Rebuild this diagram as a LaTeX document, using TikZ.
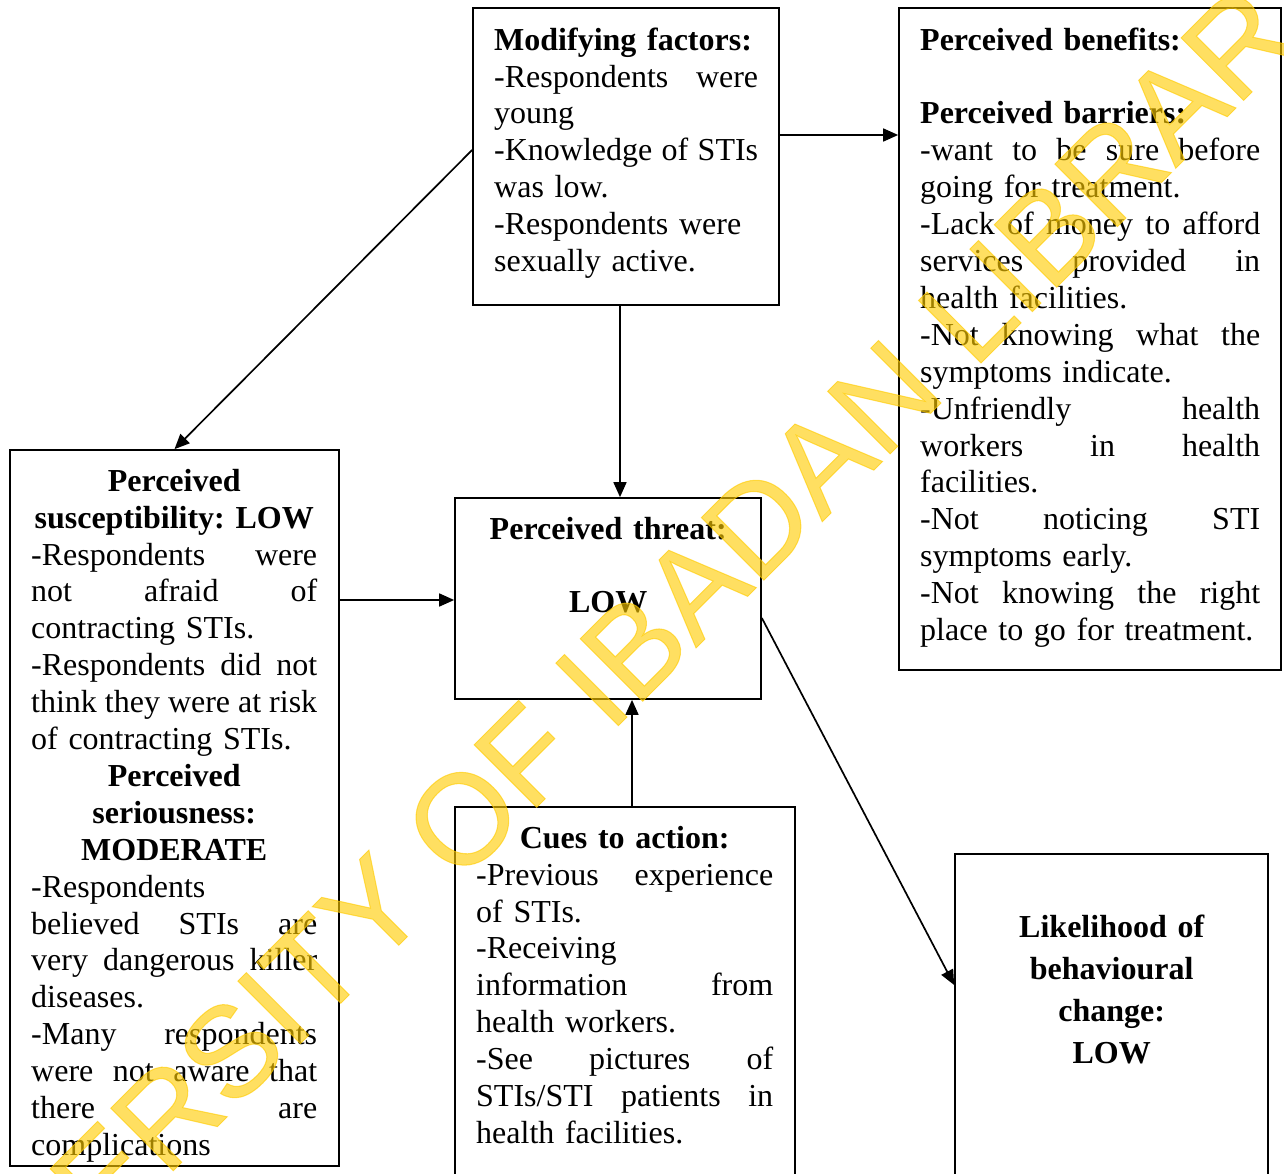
\documentclass[tikz,border=0pt]{standalone}
\usepackage{fontspec}
\setmainfont{Liberation Serif}
\newfontfamily\wmfont[FakeBold=0.8]{Liberation Sans}
\usetikzlibrary{arrows.meta}
\setlength{\parindent}{0pt}
\frenchspacing
\newlength\tw
\def\J#1{\leavevmode\hbox to\tw{\Jloop#1 \Jend}}
\def\Jloop#1 #2\Jend{#1\ifx\relax#2\relax\else\hfill\Jloop#2\Jend\fi}
\newcommand\C[1]{\makebox[\tw][c]{#1}}
\newcommand\fl{\rule{0pt}{30pt}}
\definecolor{wmcol}{RGB}{255,204,0}
\begin{document}
\begin{tikzpicture}[x=1pt,y=1pt,
  bx/.style={draw, line width=1.7pt, inner sep=0pt, fill=none},
  tb/.style={anchor=north west, inner sep=0pt, text width=#1, align=left,
    font=\fontsize{32}{36.9}\selectfont,
    execute at begin node={\setlength{\tw}{#1}\noindent}},
  arr/.style={line width=1.7pt, -{Triangle[length=15pt,width=13pt]}}]
\useasboundingbox (0,0) rectangle (1284,-1174);
\fill[white] (0,0) rectangle (1284,-1174);

% boxes
\node[bx, minimum width=306pt, minimum height=297pt] (mod) at (626,-156.5) {};
\node[bx, minimum width=382pt, minimum height=662pt] (ben) at (1090,-339) {};
\node[bx, minimum width=329pt, minimum height=716pt] (lft) at (174.5,-808) {};
\node[bx, minimum width=306pt, minimum height=201pt] (thr) at (608,-598.5) {};
\node[bx, minimum width=340pt, minimum height=383pt] (cue) at (625,-998.5) {};
\node[bx, minimum width=313pt, minimum height=336pt] (lik) at (1111.5,-1022) {};

% texts
\node[tb=264pt] (modt) at (494,-20) {\fl\textbf{Modifying factors:}\\
\J{-Respondents were}\\
young\\
\J{-Knowledge of STIs}\\
was low.\\
-Respondents were\\
sexually active.};

\node[tb=340pt] (bent) at (920,-20) {\fl\textbf{Perceived benefits:}\\
\mbox{}\\
\textbf{Perceived barriers:}\\
\J{-want to be sure before}\\
going for treatment.\\
\J{-Lack of money to afford}\\
\J{services provided in}\\
health facilities.\\
\J{-Not knowing what the}\\
symptoms indicate.\\
\J{-Unfriendly health}\\
\J{workers in health}\\
facilities.\\
\J{-Not noticing STI}\\
symptoms early.\\
\J{-Not knowing the right}\\
place to go for treatment.};

\node[tb=286pt] (lftt) at (31,-461) {\fl\C{\textbf{Perceived}}\\
\C{\textbf{susceptibility: LOW}}\\
\J{-Respondents were}\\
\J{not afraid of}\\
contracting STIs.\\
\J{-Respondents did not}\\
\J{think they were at risk}\\
of contracting STIs.\\
\C{\textbf{Perceived}}\\
\C{\textbf{seriousness:}}\\
\C{\textbf{MODERATE}}\\
-Respondents\\
\J{believed STIs are}\\
\J{very dangerous killer}\\
diseases.\\
\J{-Many respondents}\\
\J{were not aware that}\\
\J{there are}\\
complications};

\node[tb=306pt, font=\fontsize{32}{36.5}\selectfont] (thrt) at (455,-509) {\fl\C{\textbf{Perceived threat:}}\\
\mbox{}\\
\C{\textbf{LOW}}};

\node[tb=297pt] (cuet) at (476,-818) {\fl\C{\textbf{Cues to action:}}\\
\J{-Previous experience}\\
of STIs.\\
-Receiving\\
\J{information from}\\
health workers.\\
\J{-See pictures of}\\
\J{STIs/STI patients in}\\
health facilities.};

\node[tb=313pt, font=\bfseries\fontsize{32}{42}\selectfont] (likt) at (955,-907) {\fl\C{Likelihood of}\\
\C{behavioural}\\
\C{change:}\\
\C{LOW}};

% connectors
\draw[arr] ([yshift=6.5pt]mod.west) -- (lft.north);
\draw[arr] ([yshift=21.5pt]mod.east) -- ([yshift=21.5pt]mod.east -| ben.west);
\draw[arr] ([xshift=-6pt]mod.south) -- ([xshift=-6pt]mod.south |- thr.north);
\draw[arr] ([yshift=-1.5pt]lft.east |- thr.west) -- ([yshift=-1.5pt]thr.west);
\draw[arr] ([xshift=7pt]cue.north) -- ([xshift=7pt]cue.north |- thr.south);
\draw[arr] ([yshift=-19.5pt]thr.east) -- ([yshift=37pt]lik.west);

% watermark
\begin{scope}
\clip (0,0) rectangle (1284,-1174);
\node[rotate=45, anchor=base west, inner sep=0pt, text=wmcol, text opacity=0.62,
  font=\wmfont\fontsize{128.5}{130}\selectfont] (wm) at (-112,-1456) {UNIVERSITY OF IBADAN LIBRARY};
\end{scope}
\end{tikzpicture}
\end{document}
